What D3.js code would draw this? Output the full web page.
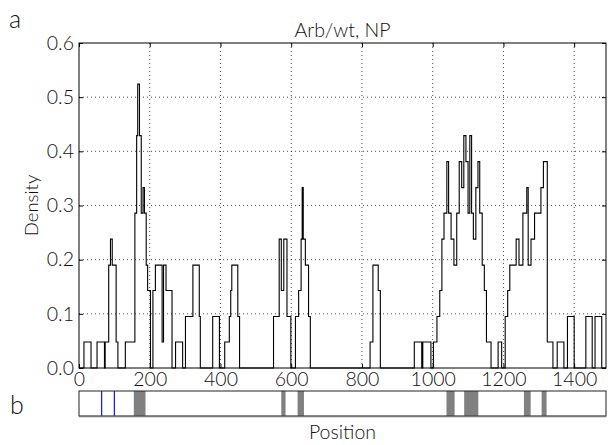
<!DOCTYPE html>
<html>
<head>
<meta charset="utf-8">
<script src="https://cdn.jsdelivr.net/npm/d3@7"></script>
<style>
  body { margin: 0; background: #fff; }
  text { font-family: Lato, "Liberation Sans", sans-serif; font-weight: 300; fill: #111; }
</style>
</head>
<body>
<svg id="chart" width="611" height="445"></svg>
<script>
// Sliding-window density: step starts (position) and density value from each start
const stepStart = [0, 14, 34, 51, 72, 74, 84, 89, 94, 105, 110, 131, 158, 163, 166, 171, 176, 181, 185, 190, 194, 202,
  209, 216, 235, 239, 246, 263, 273, 293, 301, 322, 340, 343, 378, 397, 412, 425, 429, 432, 449, 454,
  550, 566, 572, 579, 588, 599, 612, 621, 628, 631, 634, 640, 649, 654, 823, 831, 846, 852,
  948, 969, 972, 995, 1002, 1012, 1020, 1026, 1032, 1040, 1045, 1052, 1060, 1068, 1075, 1082, 1088, 1094,
  1100, 1105, 1110, 1115, 1122, 1128, 1133, 1140, 1146, 1152, 1165, 1185, 1195,
  1205, 1212, 1218, 1236, 1244, 1255, 1266, 1270, 1278, 1288, 1299, 1306, 1313, 1324, 1335, 1340,
  1352, 1371, 1381, 1400, 1433, 1451, 1459, 1478, 1490];
const density = [0, 0.048, 0, 0.048, 0, 0.048, 0.190, 0.238, 0.190, 0.048, 0, 0.048, 0.286, 0.429, 0.524, 0.429, 0.286, 0.333, 0.286, 0.190, 0.143, 0,
  0.143, 0.190, 0.048, 0.190, 0.143, 0, 0.048, 0, 0.095, 0.190, 0.095, 0, 0.095, 0, 0.048, 0.095, 0.143, 0.190, 0.095, 0,
  0.095, 0.238, 0.143, 0.238, 0.095, 0, 0.095, 0.143, 0.238, 0.333, 0.238, 0.190, 0.095, 0, 0.048, 0.190, 0.143, 0,
  0.048, 0, 0.048, 0, 0.048, 0.095, 0.143, 0.238, 0.286, 0.381, 0.286, 0.238, 0.190, 0.286, 0.381, 0.333, 0.429, 0.381,
  0.286, 0.429, 0.286, 0.238, 0.333, 0.381, 0.286, 0.190, 0.143, 0.048, 0, 0.048, 0,
  0.095, 0.143, 0.190, 0.238, 0.190, 0.286, 0.333, 0.190, 0.238, 0.286, 0.286, 0.333, 0.381, 0.048, 0.048, 0,
  0.048, 0, 0.095, 0, 0.095, 0, 0.095, 0, 0];

const xTicks = [0, 200, 400, 600, 800, 1000, 1200, 1400];
const yTicks = [0.0, 0.1, 0.2, 0.3, 0.4, 0.5, 0.6];

// Annotated regions along the sequence
const blueMarks = [64, 100];
const greyRegions = [[155, 188], [572, 584], [618, 636], [1039, 1062], [1089, 1129], [1258, 1277], [1308, 1322]];

const seqLength = 1490;
const svg = d3.select("#chart");
const plot = { left: 79, right: 606, top: 43, bottom: 368 };

const x = d3.scaleLinear().domain([0, seqLength]).range([plot.left, plot.right]);
const y = d3.scaleLinear().domain([0, 0.6]).range([plot.bottom, plot.top]);

// Panel label and title
svg.append("text").attr("x", 9).attr("y", 28).attr("font-size", 25).text("a");
svg.append("text").attr("x", (plot.left + plot.right) / 2).attr("y", 37)
  .attr("text-anchor", "middle").attr("font-size", 19.5).text("Arb/wt, NP");

// Dotted grid
const grid = svg.append("g");
grid.selectAll(".gx").data(xTicks.slice(1)).join("line")
  .attr("x1", d => x(d)).attr("x2", d => x(d)).attr("y1", plot.top).attr("y2", plot.bottom)
  .attr("stroke", "#222").attr("stroke-width", 0.8).attr("stroke-dasharray", "1,3");
grid.selectAll(".gy").data(yTicks.slice(1, -1)).join("line")
  .attr("x1", plot.left).attr("x2", plot.right).attr("y1", d => y(d)).attr("y2", d => y(d))
  .attr("stroke", "#222").attr("stroke-width", 0.8).attr("stroke-dasharray", "1,3");

// Density trace
const pts = stepStart.map((s, i) => [s, density[i]]);
svg.append("path").datum(pts)
  .attr("fill", "none").attr("stroke", "#000").attr("stroke-width", 1.1)
  .attr("d", d3.line().x(d => x(d[0])).y(d => y(d[1])).curve(d3.curveStepAfter));

// Axes with inward ticks on all sides
const axFont = g => g.selectAll("text").attr("font-size", 19.5).attr("fill", "#111");
svg.append("g").attr("transform", `translate(0,${plot.bottom})`)
  .call(d3.axisBottom(x).tickValues(xTicks).tickSize(-4).tickPadding(4).tickFormat(d3.format("d")))
  .call(g => g.select(".domain").remove())
  .call(axFont);
svg.append("g").attr("transform", `translate(${plot.left},0)`)
  .call(d3.axisLeft(y).tickValues(yTicks).tickSize(-4).tickPadding(5).tickFormat(d3.format(".1f")))
  .call(g => g.select(".domain").remove())
  .call(axFont);
svg.append("g").attr("transform", `translate(0,${plot.top})`)
  .call(d3.axisTop(x).tickValues(xTicks).tickSize(-4).tickFormat(""))
  .call(g => g.select(".domain").remove());
svg.append("g").attr("transform", `translate(${plot.right},0)`)
  .call(d3.axisRight(y).tickValues(yTicks).tickSize(-4).tickFormat(""))
  .call(g => g.select(".domain").remove());
svg.append("rect").attr("x", plot.left).attr("y", plot.top)
  .attr("width", plot.right - plot.left).attr("height", plot.bottom - plot.top)
  .attr("fill", "none").attr("stroke", "#000").attr("stroke-width", 1);

svg.append("text").attr("transform", `translate(38,${(plot.top + plot.bottom) / 2}) rotate(-90)`)
  .attr("text-anchor", "middle").attr("font-size", 18.5).text("Density");

// Sequence track
const track = { top: 391, bottom: 416 };
svg.append("text").attr("x", 10).attr("y", 414).attr("font-size", 25).text("b");
svg.selectAll(".grey").data(greyRegions).join("rect")
  .attr("x", d => x(d[0])).attr("width", d => x(d[1]) - x(d[0]))
  .attr("y", track.top).attr("height", track.bottom - track.top).attr("fill", "#808080");
svg.selectAll(".blue").data(blueMarks).join("line")
  .attr("x1", d => x(d)).attr("x2", d => x(d)).attr("y1", track.top).attr("y2", track.bottom)
  .attr("stroke", "#1010ff").attr("stroke-width", 1.2);
svg.append("rect").attr("x", plot.left).attr("y", track.top)
  .attr("width", plot.right - plot.left).attr("height", track.bottom - track.top)
  .attr("fill", "none").attr("stroke", "#222").attr("stroke-width", 1);
svg.append("line").attr("x1", plot.left).attr("x2", plot.right)
  .attr("y1", track.bottom + 0.5).attr("y2", track.bottom + 0.5)
  .attr("stroke", "#777").attr("stroke-width", 1.5);
svg.append("text").attr("x", (plot.left + plot.right) / 2).attr("y", 439)
  .attr("text-anchor", "middle").attr("font-size", 19.5).text("Position");
</script>
</body>
</html>
